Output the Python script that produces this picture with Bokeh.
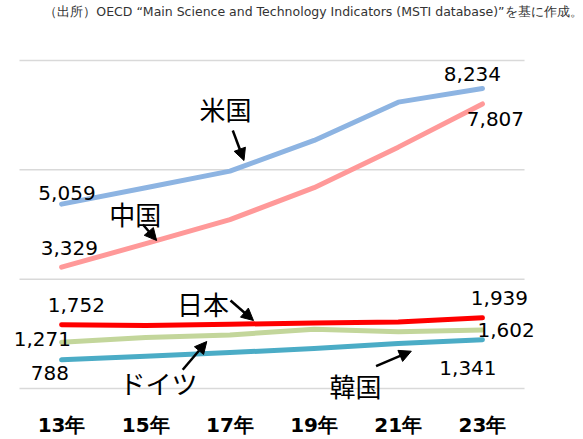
from bokeh.plotting import figure
from bokeh.models import Range1d, FixedTicker, Label, Arrow, NormalHead
from bokeh.embed import file_html
from bokeh.resources import INLINE

# ---- data ----
years = ["13年", "15年", "17年", "19年", "21年", "23年"]
us = [5059, 5510, 5965, 6806, 7857, 8234]
china = [3329, 3975, 4633, 5510, 6623, 7807]
japan = [1752, 1730, 1762, 1800, 1826, 1939]
germany = [1271, 1398, 1469, 1625, 1555, 1602]
korea = [788, 885, 987, 1096, 1233, 1341]
grid_values = [0, 3000, 6000, 9000]
title_text = "（出所）OECD “Main Science and Technology Indicators (MSTI database)”を基に作成。"

xs = [i + 0.5 for i in range(len(years))]

W, H = 583, 439
zero_px = 388          # pixel row of value 0 inside the canvas
frame_h = 403          # frame extends a bit below zero so labels are not clipped
px_per_cat = 84.17
left_pad = 19
px_per_val = 328 / 9000

p = figure(width=W, height=H, output_backend="svg", toolbar_location=None,
           x_range=Range1d(-left_pad / px_per_cat, (W - left_pad) / px_per_cat),
           y_range=Range1d(-(frame_h - zero_px) / px_per_val, zero_px / px_per_val),
           y_axis_location=None, min_border=0, min_border_bottom=H - frame_h)
p.outline_line_color = None
p.xgrid.visible = False
p.ygrid.visible = False
p.background_fill_color = "white"
p.border_fill_color = "white"

# gridlines
p.segment(x0=0, x1=len(years), y0=grid_values, y1=grid_values,
          line_color="#d9d9d9", line_width=1.5)

NUM_FONT = "DejaVu Sans"
CJK_FONT = "Noto Sans CJK JP"

series = [
    (korea, "#4BACC6"),
    (germany, "#C3D69B"),
    (japan, "#FF0000"),
    (china, "#FF9999"),
    (us, "#8DB4E2"),
]
for vals, col in series:
    p.line(xs, vals, line_color=col, line_width=5, line_cap="round", line_join="round")

# axis
ax = p.xaxis[0]
ax.ticker = FixedTicker(ticks=xs)
ax.major_label_overrides = {x: y for x, y in zip(xs, years)}
ax.axis_line_color = None
ax.major_tick_line_color = None
ax.minor_tick_line_color = None
ax.major_tick_out = 0
ax.major_tick_in = 0
ax.major_label_text_font = NUM_FONT
ax.major_label_text_font_style = "bold"
ax.major_label_text_font_size = "20px"
ax.major_label_text_color = "black"
ax.major_label_standoff = 9

# value labels: (series, index, dx, dy)
vlabels = [
    (us, 5, -10, 14), (china, 5, 13, -15.5),
    (us, 0, 5.4, 11), (china, 0, 7.7, 19),
    (japan, 0, 14.7, 20), (germany, 0, -19.3, 2.7), (korea, 0, -11.8, -13.2),
    (japan, 5, 17, 19.8), (germany, 5, 23.6, 0.6), (korea, 5, -14.5, -28.4),
]
for vals, i, dx, dy in vlabels:
    p.add_layout(Label(x=xs[i], y=vals[i], text=f"{vals[i]:,}", x_offset=dx, y_offset=dy,
                       text_align="center", text_baseline="middle",
                       text_font=NUM_FONT, text_font_size="20px", text_color="black"))

# series names and arrows (annotation positions in data units)
names = [
    ("米国", 2.447, 7675, (2.534, 7079, 2.667, 6256)),
    ("中国", 1.376, 4794, (1.466, 4500, 1.629, 4061)),
    ("日本", 2.180, 2324, (2.507, 2415, 2.780, 1866)),
    ("ドイツ", 1.651, 173, (1.939, 513, 2.225, 1290)),
    ("韓国", 3.992, 82, (4.236, 612, 4.655, 1023)),
]
for name, nx, ny, (x0, y0, x1, y1) in names:
    p.add_layout(Label(x=nx, y=ny, text=name, text_align="center", text_baseline="middle",
                       text_font=CJK_FONT, text_font_size="26px", text_color="black"))
    p.add_layout(Arrow(x_start=x0, y_start=y0, x_end=x1, y_end=y1,
                       line_color="black", line_width=2.5,
                       end=NormalHead(size=12, fill_color="black", line_color="black")))

# source note
p.add_layout(Label(x=p.x_range.end, y=p.y_range.end, text=title_text,
                   x_offset=-1, y_offset=-3.5,
                   text_align="right", text_baseline="top",
                   text_font=NUM_FONT, text_font_size="12.5px", text_color="#333333"))

open("out.html", "w").write(file_html(p, INLINE))
